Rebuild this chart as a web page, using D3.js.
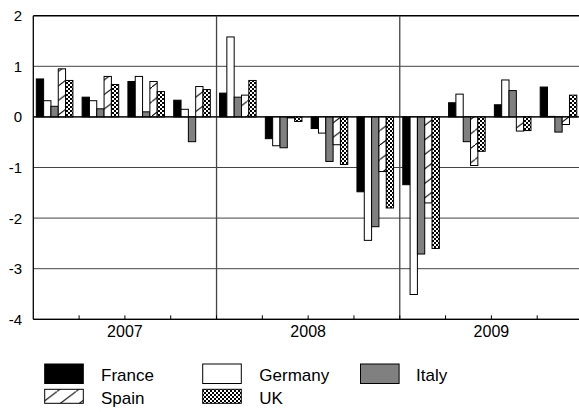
<!DOCTYPE html>
<html><head><meta charset="utf-8">
<script src="https://cdn.jsdelivr.net/npm/d3@7"></script>
<style>body{margin:0;background:#fff}svg{display:block}</style>
</head><body>
<svg id="c" width="579" height="412"></svg>
<script>
const quarters = ["2007Q1","2007Q2","2007Q3","2007Q4","2008Q1","2008Q2","2008Q3","2008Q4","2009Q1","2009Q2","2009Q3","2009Q4"];
const years = ["2007","2008","2009"];
const seriesNames = ["France","Germany","Italy","Spain","UK"];
const france  = [0.75,0.39,0.70,0.33, 0.47,-0.43,-0.23,-1.48, -1.34,0.28,0.24,0.59];
const germany = [0.32,0.32,0.80,0.15, 1.58,-0.57,-0.32,-2.44, -3.51,0.45,0.73,0.01];
const italy   = [0.21,0.16,0.10,-0.49, 0.39,-0.61,-0.88,-2.17, -2.71,-0.49,0.52,-0.30];
const spain   = [0.95,0.80,0.70,0.60, 0.43,-0.02,-0.55,-1.08, -1.70,-0.96,-0.28,-0.15];
const uk      = [0.72,0.64,0.50,0.54, 0.72,-0.09,-0.94,-1.80, -2.60,-0.68,-0.27,0.43];
const yTicks = [2,1,0,-1,-2,-3,-4];

const seriesData = [france, germany, italy, spain, uk];

const svg = d3.select("#c");
const defs = svg.append("defs");
const pS = defs.append("pattern").attr("id","spain").attr("patternUnits","userSpaceOnUse")
  .attr("width",19).attr("height",14.5);
pS.append("rect").attr("width",19).attr("height",14.5).attr("fill","#fff");
pS.append("line").attr("x1",0).attr("y1",14.5).attr("x2",19).attr("y2",0).attr("stroke","#000").attr("stroke-width",1);
const pU = defs.append("pattern").attr("id","uk").attr("patternUnits","userSpaceOnUse")
  .attr("width",4).attr("height",4);
pU.append("rect").attr("width",4).attr("height",4).attr("fill","#fff");
pU.append("rect").attr("x",0).attr("y",0).attr("width",2).attr("height",2).attr("fill","#000");
pU.append("rect").attr("x",2).attr("y",2).attr("width",2).attr("height",2).attr("fill","#000");

const fills = {France:"#000", Germany:"#fff", Italy:"#808080", Spain:"url(#spain)", UK:"url(#uk)"};

const L = 33.3, R = 583, T = 15.7, B = 319.3;
const y = d3.scaleLinear().domain([-4,2]).range([B,T]);
const x0 = d3.scaleBand().domain(quarters).range([L,R]);
const bw = x0.bandwidth();
const x1 = d3.scaleBand().domain(seriesNames).range([3, 3+36.6]);
const xYear = d3.scaleBand().domain(years).range([L,R]);

// grid
svg.append("g").selectAll("line").data(yTicks).join("line")
  .attr("x1",L).attr("x2",R).attr("y1",d=>y(d)).attr("y2",d=>y(d))
  .attr("stroke",d=> d===2||d===0||d===-4 ? "#000" : "#444")
  .attr("stroke-width",d=> d===2 ? 1.5 : 1);

// year dividers
svg.append("g").selectAll("line").data(years.slice(1)).join("line")
  .attr("x1",d=>xYear(d)).attr("x2",d=>xYear(d)).attr("y1",T).attr("y2",B)
  .attr("stroke","#444").attr("stroke-width",1.3);

// bars
const g = svg.append("g");
seriesNames.forEach((s,si)=>{
  g.append("g").selectAll("rect").data(seriesData[si]).join("rect")
    .attr("x",(d,i)=>x0(quarters[i]) + x1(s))
    .attr("width",x1.bandwidth())
    .attr("y",d=>y(Math.max(0,d)))
    .attr("height",d=>Math.abs(y(d)-y(0)))
    .attr("fill",fills[s]).attr("stroke","#000").attr("stroke-width",1);
});

// zero line on top
svg.append("line").attr("x1",L).attr("x2",R).attr("y1",y(0)).attr("y2",y(0)).attr("stroke","#000");

// left axis
svg.append("line").attr("x1",L).attr("x2",L).attr("y1",T).attr("y2",B).attr("stroke","#000").attr("stroke-width",1.3);
// bottom axis
svg.append("line").attr("x1",L).attr("x2",R).attr("y1",B).attr("y2",B).attr("stroke","#000").attr("stroke-width",1.3);
// quarter ticks
svg.append("g").selectAll("line").data(quarters.slice(1)).join("line")
  .attr("x1",d=>x0(d)).attr("x2",d=>x0(d)).attr("y1",B).attr("y2",B-4)
  .attr("stroke","#000");

// y labels
svg.append("g").selectAll("text").data(yTicks).join("text")
  .attr("x",22).attr("y",d=>y(d)).attr("dy","0.36em").attr("text-anchor","end")
  .attr("font-family","Liberation Sans, Arial, sans-serif").attr("font-size",15)
  .text(d=>d);

// year labels
svg.append("g").selectAll("text").data(years).join("text")
  .attr("x",d=>xYear(d)+xYear.bandwidth()/2 - (d==="2009"?0:0)).attr("y",336.5).attr("text-anchor","middle")
  .attr("font-family","Liberation Sans, Arial, sans-serif").attr("font-size",16)
  .text(d=>d);

// legend
const legendPos = [
  {s:"France", bx:44.7, tx:101, by:364, bh:19.5, ty:381},
  {s:"Germany", bx:202.7, tx:259.3, by:364, bh:19.5, ty:381},
  {s:"Italy", bx:360.5, tx:416, by:364, bh:19.5, ty:381},
  {s:"Spain", bx:44.7, tx:101, by:389.3, bh:14, ty:404},
  {s:"UK", bx:202.7, tx:259.3, by:389.3, bh:14, ty:404}
];
const lg = svg.append("g");
legendPos.forEach(p=>{
  lg.append("rect").attr("x",p.bx).attr("y",p.by).attr("width",38.6).attr("height",p.bh)
    .attr("fill",fills[p.s]).attr("stroke","#000").attr("stroke-width",1);
  lg.append("text").attr("x",p.tx).attr("y",p.ty)
    .attr("font-family","Liberation Sans, Arial, sans-serif").attr("font-size",17)
    .text(p.s);
});
</script>
</body></html>
